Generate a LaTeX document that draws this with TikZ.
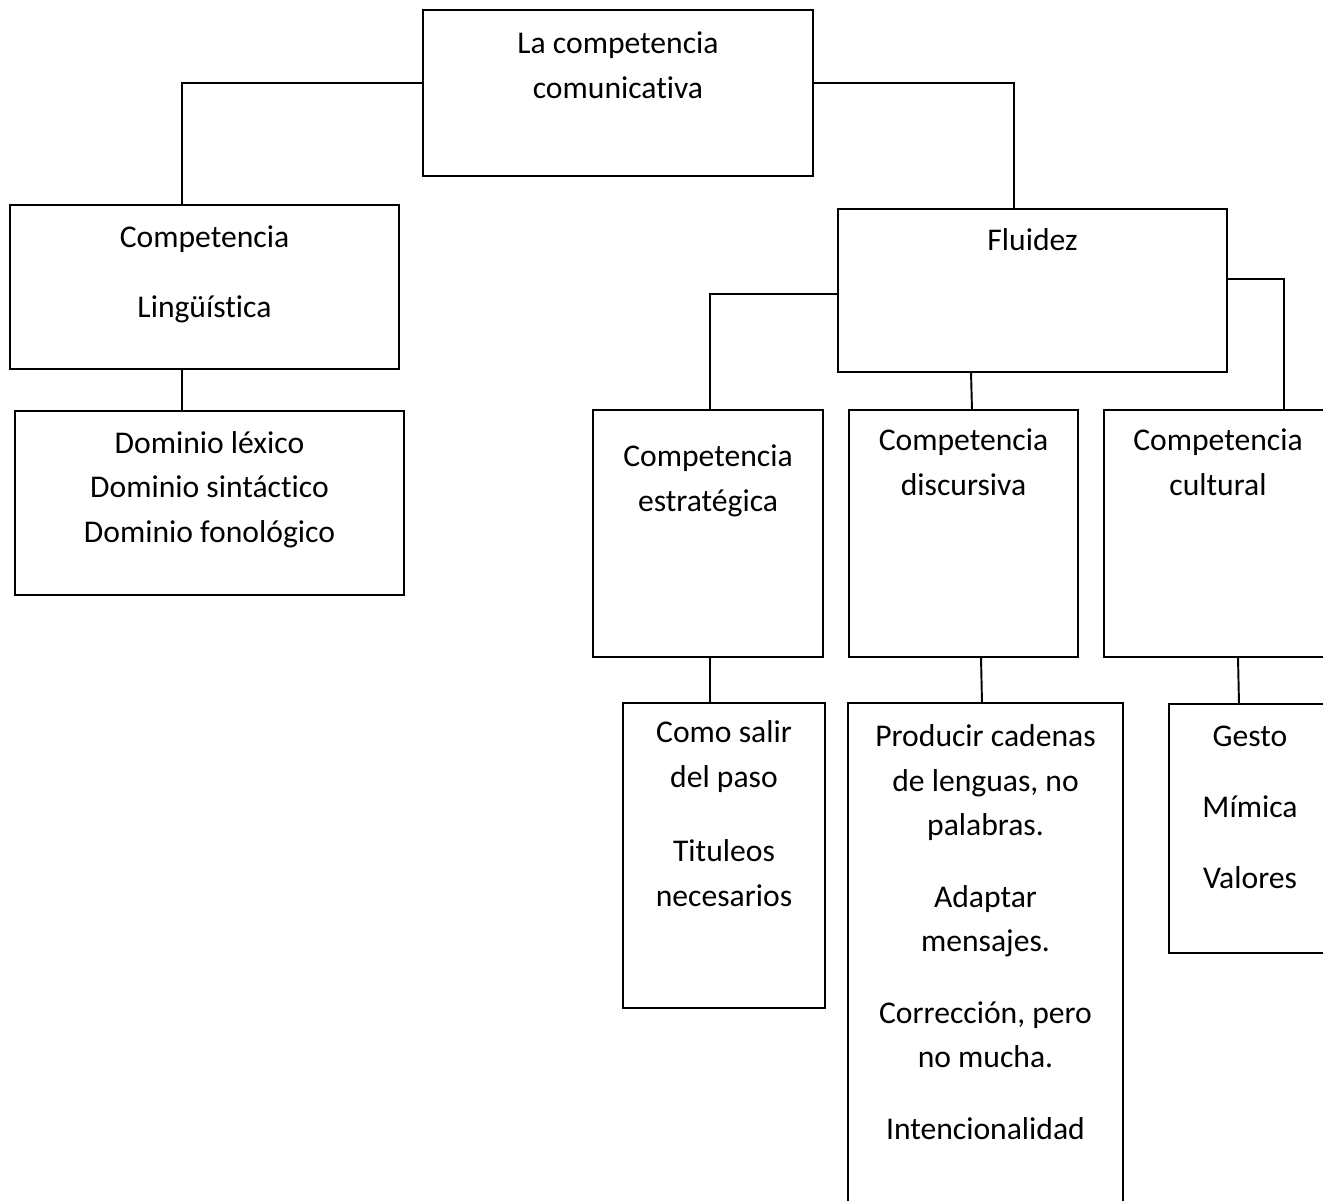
\documentclass[tikz,border=0pt]{standalone}
\usepackage{fontspec}
\setmainfont{Carlito}[Ligatures={NoCommon}]
\usetikzlibrary{fit}
\begin{document}
\begin{tikzpicture}[x=0.02cm,y=-0.02cm,
  box/.style={draw=black, line width=1.1pt, inner sep=0pt, outer sep=0pt, rectangle},
  txt/.style={anchor=base, align=center, inner sep=0pt, font=\fontsize{18pt}{25.3pt}\selectfont},
  conn/.style={draw=black, line width=1.1pt}]
\useasboundingbox (0,0) rectangle (1323,1201);
\clip (0,0) rectangle (1323,1201);
% boxes
\node[box, fit={(423,10) (813,176)}] (top) {};
\node[box, fit={(10,205) (399,369)}] (ling) {};
\node[box, fit={(15,411) (404,595)}] (dom) {};
\node[box, fit={(838,209) (1227,372)}] (flu) {};
\node[box, fit={(593,410) (823,657)}] (est) {};
\node[box, fit={(849,410) (1078,657)}] (dis) {};
\node[box, fit={(1104,410) (1340,657)}] (cul) {};
\node[box, fit={(623,703) (825,1008)}] (como) {};
\node[box, fit={(848,703) (1123,1215)}] (prod) {};
\node[box, fit={(1169,704) (1340,953)}] (ges) {};
% texts (anchor = baseline of the last line)
\node[txt] (ttop) at (618,98) {La competencia\\comunicativa};
\node[txt] (tling) at (204.5,317) {Competencia\\[0.51cm]Lingüística};
\node[txt] (tdom) at (209.5,542) {Dominio léxico\\Dominio sintáctico\\Dominio fonológico};
\node[txt] (tflu) at (1032.5,250) {Fluidez};
\node[txt] (test) at (708,511) {Competencia\\estratégica};
\node[txt] (tdis) at (963.5,495) {Competencia\\discursiva};
\node[txt] (tcul) at (1218,495) {Competencia\\cultural};
\node[txt] (tcomo) at (724,906) {Como salir\\del paso\\[0.6cm]Tituleos\\necesarios};
\node[txt] (tprod) at (985.5,1139) {Producir cadenas\\de lenguas, no\\palabras.\\[0.54cm]Adaptar\\mensajes.\\[0.54cm]Corrección, pero\\no mucha.\\[0.54cm]Intencionalidad};
\node[txt] (tges) at (1250,888) {Gesto\\[0.53cm]Mímica\\[0.53cm]Valores};
% connectors
\draw[conn] (top.west |- 0,83) -| (182,0 |- ling.north);
\draw[conn] (top.east |- 0,83) -| (1014,0 |- flu.north);
\draw[conn] (182,0 |- ling.south) -- (182,0 |- dom.north);
\draw[conn] (flu.west |- 0,294) -| (710,0 |- est.north);
\draw[conn] (971,0 |- flu.south) -- (972,0 |- dis.north);
\draw[conn] (flu.east |- 0,279) -| (1284,0 |- cul.north);
\draw[conn] (710,0 |- est.south) -- (710,0 |- como.north);
\draw[conn] (981,0 |- dis.south) -- (982,0 |- prod.north);
\draw[conn] (1238,0 |- cul.south) -- (1239,0 |- ges.north);
\end{tikzpicture}
\end{document}
